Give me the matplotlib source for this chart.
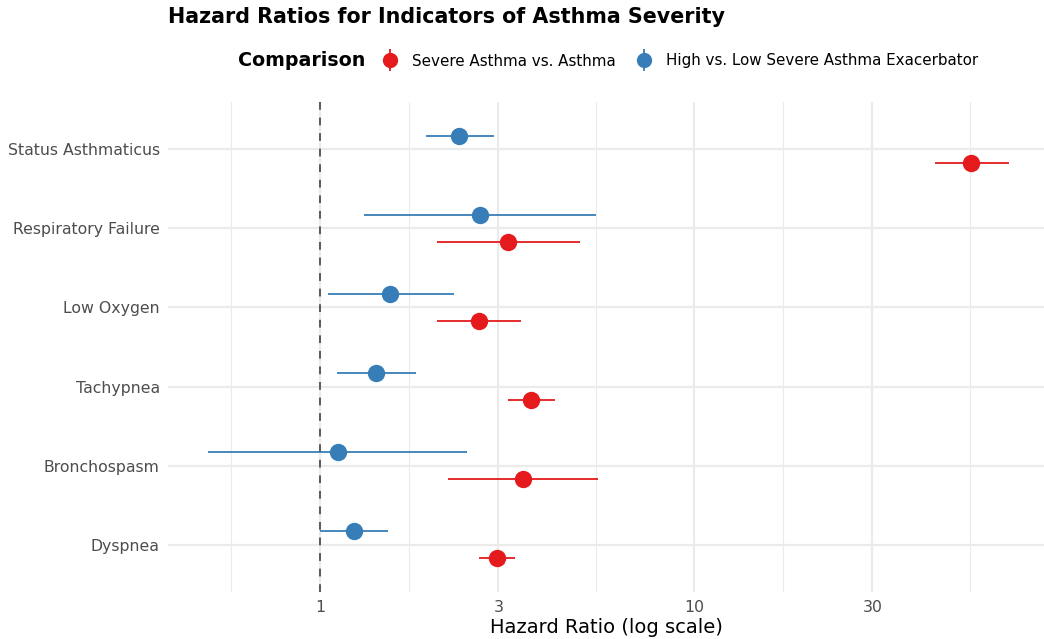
import matplotlib.pyplot as plt
from matplotlib.lines import Line2D
from matplotlib.legend_handler import HandlerTuple
import numpy as np

plt.rcParams['font.family'] = ['DejaVu Sans']

# indicators, bottom to top
indicators = ["Dyspnea", "Bronchospasm", "Tachypnea", "Low Oxygen",
              "Respiratory Failure", "Status Asthmaticus"]

# severe asthma vs asthma
severe_hr = [2.97, 3.49, 3.67, 2.66, 3.18, 55.1]
severe_lo = [2.66, 2.20, 3.18, 2.06, 2.06, 44.1]
severe_hi = [3.32, 5.54, 4.25, 3.45, 4.96, 69.5]

# high vs low severe asthma exacerbator
high_hr = [1.23, 1.12, 1.41, 1.54, 2.68, 2.35]
high_lo = [1.00, 0.50, 1.11, 1.05, 1.31, 1.92]
high_hi = [1.52, 2.47, 1.80, 2.28, 5.47, 2.92]

x_ticks = [1, 3, 10, 30]

RED = "#E41A1C"
BLUE = "#377EB8"
GRID = "#EBEBEB"

W, H = 1044, 639
fig = plt.figure(figsize=(W / 100, H / 100), dpi=100)
ax = fig.add_axes([168 / W, 47 / H, 876 / W, 490 / H])

ypos = np.arange(1, len(indicators) + 1)
dodge = 0.175

def pointrange(y, hr, lo, hi, col):
    ax.hlines(y, lo, hi, color=col, lw=1.3, zorder=3)
    ax.plot(hr, y, 'o', color=col, ms=12.5, mec='none', zorder=4)

pointrange(ypos - dodge, severe_hr, severe_lo, severe_hi, RED)
pointrange(ypos + dodge, high_hr, high_lo, high_hi, BLUE)

ax.axvline(1, color="#5A5A5A", ls=(0, (4, 4)), lw=1.4, zorder=2)

ax.set_xscale('log')
ax.set_xlim(0.392, 86.3)
ax.set_ylim(0.4, 6.6)

# major and minor breaks halfway in log space
ax.set_xticks(x_ticks)
ax.set_xticklabels([str(t) for t in x_ticks])
lx = np.log10(x_ticks)
minor = [10 ** (lx[0] - 0.2385)] + [10 ** ((a + b) / 2) for a, b in zip(lx[:-1], lx[1:])] + [10 ** (lx[-1] + 0.2615)]
ax.set_xticks(minor, minor=True)
ax.set_xticklabels([], minor=True)
ax.set_yticks(ypos)
ax.set_yticklabels(indicators)

ax.grid(True, which='major', color=GRID, lw=1.6, zorder=0)
ax.grid(True, which='minor', axis='x', color=GRID, lw=0.8, zorder=0)
ax.set_axisbelow(True)
for s in ax.spines.values():
    s.set_visible(False)
ax.tick_params(which='both', length=0)
ax.tick_params(axis='both', labelsize=11.3, labelcolor="#4D4D4D")
ax.tick_params(axis='y', pad=6)
ax.tick_params(axis='x', pad=6)

ax.set_xlabel("Hazard Ratio (log scale)", fontsize=14, color="black", labelpad=2)

fig.text(168 / W, 1 - 17 / H, "Hazard Ratios for Indicators of Asthma Severity",
         fontsize=14.9, fontweight='bold', va='center', ha='left')

fig.text(238 / W, 1 - 61 / H, "Comparison", fontsize=13.7, fontweight='bold',
         va='center', ha='left')

def key(col):
    return (Line2D([], [], marker='|', ls='none', color=col, ms=16, mew=1.3),
            Line2D([], [], marker='o', ls='none', color=col, ms=11, mec='none'))

fig.legend([key(RED), key(BLUE)],
           ["Severe Asthma vs. Asthma", "High vs. Low Severe Asthma Exacerbator"],
           handler_map={tuple: HandlerTuple(ndivide=1)},
           loc='center left', bbox_to_anchor=(379 / W, 1 - 61 / H), ncol=2,
           frameon=False, fontsize=10.9, handlelength=1.4, handletextpad=0.75,
           columnspacing=1.2, borderaxespad=0, borderpad=0)

fig.savefig("out.png", dpi=100, facecolor='white')
